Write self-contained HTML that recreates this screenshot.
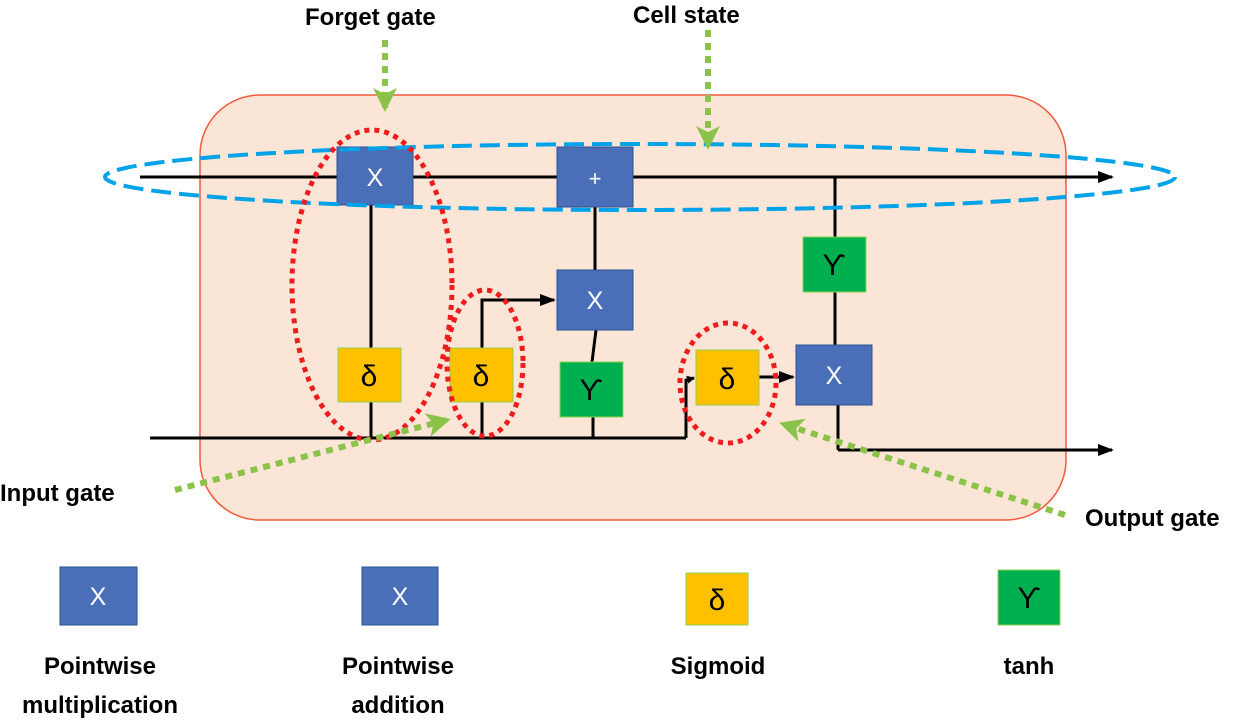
<!DOCTYPE html>
<html><head><style>body{margin:0;background:#fff}svg{display:block}text{font-family:"Liberation Sans",sans-serif}</style></head><body>
<svg width="1255" height="725" viewBox="0 0 1255 725" xmlns="http://www.w3.org/2000/svg">
<defs><marker id="a" markerWidth="8" markerHeight="8" refX="7" refY="4" orient="auto" markerUnits="userSpaceOnUse"><path d="M0,0 L8,4 L0,8z" fill="#000"/></marker>
<marker id="ab" markerWidth="16" markerHeight="12" refX="14" refY="6" orient="auto" markerUnits="userSpaceOnUse"><path d="M0,0 L16,6 L0,12z" fill="#000"/></marker>
<marker id="g" markerWidth="24" markerHeight="24" refX="20" refY="12" orient="auto" markerUnits="userSpaceOnUse"><path d="M0,0 L24,12 L0,24 L6,12z" fill="#8bc34a"/></marker></defs>
<rect x="200" y="95" width="866" height="425" rx="60" fill="#fbe5d6" stroke="#f05a3c" stroke-width="1.5"/>
<g stroke="#000" stroke-width="3" fill="none">
<line x1="140" y1="177" x2="1112" y2="177" marker-end="url(#ab)"/>
<line x1="150" y1="438" x2="686" y2="438"/>
<polyline points="686,438 686,380 694,378" marker-end="url(#a)"/>
<line x1="838" y1="450" x2="1112" y2="450" marker-end="url(#ab)"/>
<line x1="371" y1="205" x2="371" y2="438"/>
<polyline points="482,438 482,300 554,300" marker-end="url(#ab)"/>
<line x1="595" y1="207" x2="595" y2="270"/>
<line x1="596" y1="330" x2="592" y2="362"/>
<line x1="593" y1="417" x2="593" y2="438"/>
<line x1="835" y1="177" x2="835" y2="345"/>
<line x1="838" y1="405" x2="838" y2="450"/>
<line x1="759" y1="377" x2="793" y2="377" marker-end="url(#ab)"/>
</g>
<g font-size="25" text-anchor="middle">
<rect x="337" y="147" width="76" height="58" fill="#4a6fb8" stroke="#2f528f"/><text x="375" y="186" fill="#fff">X</text>
<rect x="557" y="147" width="76" height="60" fill="#4a6fb8" stroke="#2f528f"/><text x="595" y="186" fill="#fff" font-size="22">+</text>
<rect x="557" y="270" width="76" height="60" fill="#4a6fb8" stroke="#2f528f"/><text x="595" y="309" fill="#fff">X</text>
<rect x="796" y="345" width="76" height="60" fill="#4a6fb8" stroke="#2f528f"/><text x="834" y="384" fill="#fff">X</text>
<g font-family="Liberation Serif" font-size="30">
<rect x="338" y="348" width="63" height="54" fill="#ffc000" stroke="#8fd14f"/><text x="369" y="386">δ</text>
<rect x="450" y="348" width="63" height="54" fill="#ffc000" stroke="#8fd14f"/><text x="481" y="386">δ</text>
<rect x="696" y="350" width="63" height="55" fill="#ffc000" stroke="#8fd14f"/><text x="727" y="389">δ</text>
<rect x="560" y="362" width="63" height="55" fill="#00b050" stroke="#8fd14f"/><text x="591" y="400">ϒ</text>
<rect x="803" y="237" width="63" height="55" fill="#00b050" stroke="#8fd14f"/><text x="834" y="275">ϒ</text>
</g>
</g>
<ellipse cx="640" cy="177" rx="535" ry="33" fill="none" stroke="#00a3e8" stroke-width="4" stroke-dasharray="20,8"/>
<g fill="none" stroke="#ee1c1c" stroke-width="5" stroke-dasharray="5,5">
<ellipse cx="372" cy="285" rx="80" ry="155"/>
<ellipse cx="485" cy="363" rx="38" ry="73"/>
<ellipse cx="728" cy="383" rx="48" ry="60"/>
</g>
<g stroke="#8bc34a" stroke-width="6" stroke-dasharray="7,6" fill="none">
<line x1="385" y1="40" x2="385" y2="108" marker-end="url(#g)"/>
<line x1="708" y1="30" x2="708" y2="146" marker-end="url(#g)"/>
<line x1="175" y1="490" x2="447" y2="420" marker-end="url(#g)"/>
<line x1="1065" y1="515" x2="783" y2="424" marker-end="url(#g)"/>
</g>
<g font-size="24" font-weight="bold" fill="#000">
<text x="305" y="25">Forget gate</text>
<text x="633" y="23">Cell state</text>
<text x="0" y="501">Input gate</text>
<text x="1085" y="526">Output gate</text>
</g>
<g font-size="25" text-anchor="middle">
<rect x="60" y="567" width="77" height="58" fill="#4a6fb8" stroke="#2f528f"/><text x="98" y="605" fill="#fff">X</text>
<rect x="362" y="567" width="76" height="58" fill="#4a6fb8" stroke="#2f528f"/><text x="400" y="605" fill="#fff">X</text>
<g font-family="Liberation Serif" font-size="30">
<rect x="686" y="573" width="62" height="52" fill="#ffc000" stroke="#8fd14f"/><text x="717" y="610">δ</text>
<rect x="998" y="570" width="62" height="55" fill="#00b050" stroke="#8fd14f"/><text x="1029" y="608">ϒ</text>
</g>
</g>
<g font-size="24" font-weight="bold" text-anchor="middle">
<text x="100" y="674">Pointwise</text><text x="100" y="713">multiplication</text>
<text x="398" y="674">Pointwise</text><text x="398" y="713">addition</text>
<text x="718" y="674">Sigmoid</text>
<text x="1029" y="674">tanh</text>
</g>
</svg>
</body></html>
